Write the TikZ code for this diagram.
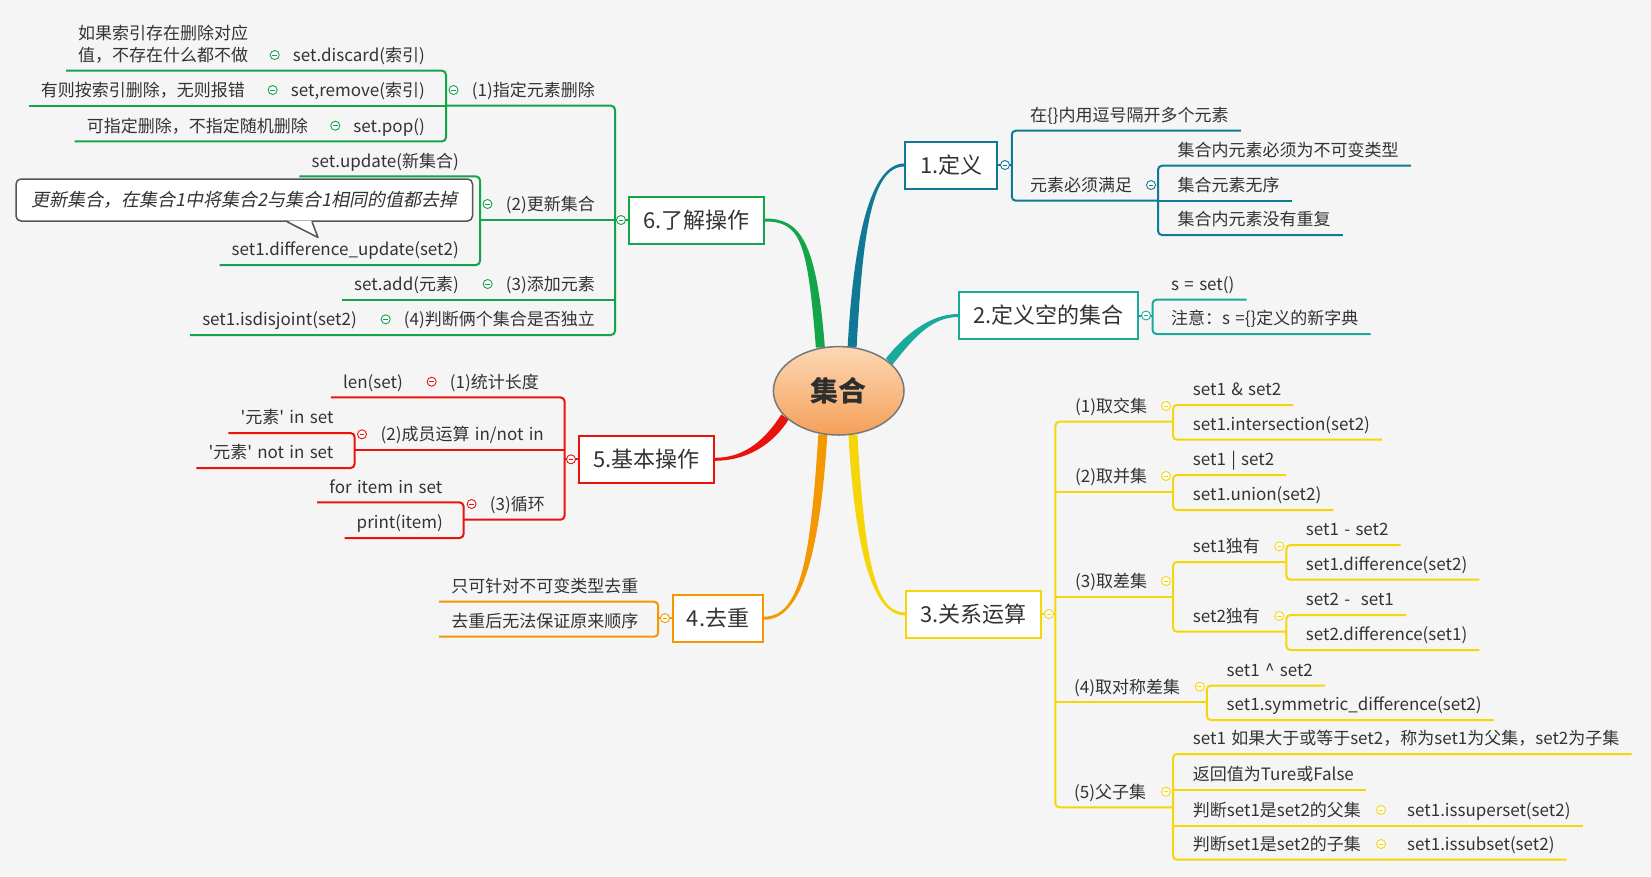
\documentclass[tikz,border=0pt]{standalone}
\usepackage{fontspec}
\setmainfont{Noto Sans CJK SC}[WordSpace=1.4]
\newfontfamily\notefont{Noto Sans CJK SC}[FakeSlant=0.2]
\usepackage{tikz}
\usetikzlibrary{calc, shapes.geometric, backgrounds}
\definecolor{c1}{RGB}{16,122,150}
\definecolor{c2}{RGB}{24,170,155}
\definecolor{c3}{RGB}{245,214,10}
\definecolor{c4}{RGB}{243,152,0}
\definecolor{c5}{RGB}{232,20,12}
\definecolor{c6}{RGB}{20,165,75}
\definecolor{ink}{RGB}{51,51,51}
\definecolor{bg}{RGB}{245,245,245}
\definecolor{rimgray}{RGB}{120,120,120}
\definecolor{notegray}{RGB}{85,85,85}
\definecolor{rtop}{RGB}{252,216,180}
\definecolor{rbot}{RGB}{245,160,90}
\newcommand{\leaffont}{\fontsize{17}{21}\selectfont}
\newcommand{\topicfont}{\fontsize{22}{26}\selectfont}
\newcommand{\limb}[7]{%
  \fill[#1] ($(#2)+(#6)$) .. controls ($(#3)+(#6)$) and ($(#4)+(#7)$) .. ($(#5)+(#7)$)
    -- ($(#5)-(#7)$) .. controls ($(#4)-(#7)$) and ($(#3)-(#6)$) .. ($(#2)-(#6)$) -- cycle;}
\tikzset{
  txt/.style={font=\leaffont, text=ink, inner xsep=0pt, inner ysep=7pt, text height=15pt, text depth=2pt},
  rtxt/.style={txt, anchor=west},
  ltxt/.style={txt, anchor=east}
}
\tikzset{
  topic/.style={draw=#1, fill=white, line width=2pt, minimum height=47pt, font=\topicfont, text=ink},
  rootnode/.style={ellipse, draw=rimgray, line width=1.5pt, top color=rtop, bottom color=rbot, minimum width=130.6pt, minimum height=88.4pt, inner sep=0pt, font=\fontsize{28}{32}\selectfont\bfseries, text=ink!90!black},
  link/.style={draw=#1, line width=2pt, rounded corners=4pt},
  fold/.style={circle, draw=#1, fill=white, line width=0.9pt, minimum size=9pt, inner sep=0pt,
    path picture={\draw[#1, line width=0.9pt] ([xshift=-2.4pt]path picture bounding box.center) -- ([xshift=2.4pt]path picture bounding box.center);}},
  callout/.style={draw=notegray, fill=white, line width=1.5pt, rounded corners=5pt, minimum width=456.5pt, minimum height=42pt, inner sep=0pt, font=\notefont\fontsize{18}{22}\selectfont, text=ink}
}
\begin{document}
\begin{tikzpicture}[x=1pt, y=-1pt]
\useasboundingbox (0,0) rectangle (1651,876);

% centre and main topics
\node[rootnode] (root) at (838.7,390.8) {集合};
\node[topic=c1, minimum width=91.6pt] (def) at (951.2,165) {1.定义};
\node[topic=c2, minimum width=179pt] (emp) at (1048.5,315.5) {2.定义空的集合};
\node[topic=c3, minimum width=135pt] (rel) at (973.5,614) {3.关系运算};
\node[topic=c4, minimum width=90pt] (dup) at (718,618.2) {4.去重};
\node[topic=c5, minimum width=134.6pt] (ops) at (646.3,459.3) {5.基本操作};
\node[topic=c6, minimum width=135pt] (ext) at (696.5,220) {6.了解操作};

% bus lines
\coordinate (b1) at (1011.8,0);
\coordinate (b1a) at (1158,0);
\coordinate (b2) at (1152.5,0);
\coordinate (b3) at (1055.3,0);
\coordinate (b3a) at (1173,0);
\coordinate (b3c) at (1286.3,0);
\coordinate (b3d) at (1206.8,0);
\coordinate (b4) at (658.2,0);
\coordinate (b5) at (564.6,0);
\coordinate (b5b) at (354.6,0);
\coordinate (b5c) at (463.6,0);
\coordinate (b6) at (615,0);
\coordinate (b6a) at (446,0);
\coordinate (b6b) at (480,0);

% 1
\foreach \n/\x/\y/\t in {d1/1030/115/{在\{\}内用逗号隔开多个元素}, d2/1030/185/{元素必须满足},
    d21/1177.5/150/{集合内元素必须为不可变类型}, d22/1177.5/185/{集合元素无序}, d23/1177.5/219.3/{集合内元素没有重复}}
  \node[rtxt] (\n) at (\x,\y) {\t};
\draw[link=c1] (def.east) -- (b1 |- def.east);
\draw[link=c1] ([xshift=12pt]d1.south east) -- (b1 |- d1.south) -- (b1 |- d2.south) -- (b1a |- d2.south);
\draw[link=c1] ([xshift=12pt]d21.south east) -- (b1a |- d21.south) -- (b1a |- d23.south) -- ([xshift=12pt]d23.south east);
\draw[link=c1] (b1a |- d22.south) -- ([xshift=12pt]d22.south east);

% 2
\node[rtxt] (e1) at (1171,284) {s = set()};
\node[rtxt] (e2) at (1171,318.3) {注意：s =\{\}定义的新字典};
\draw[link=c2] (emp.east) -- (b2 |- emp.east);
\draw[link=c2] ([xshift=12pt]e1.south east) -- (b2 |- e1.south) -- (b2 |- e2.south) -- ([xshift=12pt]e2.south east);

% 3
\foreach \n/\x/\y/\t in {r1/1075/406/{(1)取交集}, r11/1192.7/389.3/{set1 \& set2}, r12/1192.7/424/{set1.intersection(set2)},
    r2/1075/476/{(2)取并集}, r21/1192.7/459.3/{set1 | set2}, r22/1192.7/494.3/{set1.union(set2)},
    r3/1075/581/{(3)取差集}, r31/1192.7/546.3/{set1独有}, r32/1192.7/616/{set2独有},
    r311/1305.7/529.3/{set1 - set2}, r312/1305.7/564/{set1.difference(set2)},
    r321/1305.7/599.3/{set2 -~ set1}, r322/1305.7/634.3/{set2.difference(set1)},
    r4/1074/686.7/{(4)取对称差集}, r41/1226.5/670/{set1 \textasciicircum{} set2}, r42/1226.5/704.3/{set1.symmetric\_difference(set2)},
    r5/1074/791.7/{(5)父子集}, r51/1192.7/738.3/{set1 如果大于或等于set2，称为set1为父集，set2为子集},
    r52/1192.7/774/{返回值为Ture或False}, r53/1192.7/810/{判断set1是set2的父集}, r531/1407/810/{set1.issuperset(set2)},
    r54/1192.7/844/{判断set1是set2的子集}, r541/1407/844/{set1.issubset(set2)}}
  \node[rtxt] (\n) at (\x,\y) {\t};
\draw[link=c3] (rel.east) -- (b3 |- rel.east);
\draw[link=c3] (b3a |- r1.south) -- (b3 |- r1.south) -- (b3 |- r5.south) -- (b3a |- r5.south);
\draw[link=c3] (b3 |- r2.south) -- (b3a |- r2.south);
\draw[link=c3] (b3 |- r3.south) -- (b3a |- r3.south);
\draw[link=c3] (b3 |- r4.south) -- (b3d |- r4.south);
\draw[link=c3] ([xshift=12pt]r11.south east) -- (b3a |- r11.south) -- (b3a |- r12.south) -- ([xshift=12pt]r12.south east);
\draw[link=c3] ([xshift=12pt]r21.south east) -- (b3a |- r21.south) -- (b3a |- r22.south) -- ([xshift=12pt]r22.south east);
\draw[link=c3] (b3c |- r31.south) -- (b3a |- r31.south) -- (b3a |- r32.south) -- (b3c |- r32.south);
\draw[link=c3] ([xshift=12pt]r311.south east) -- (b3c |- r311.south) -- (b3c |- r312.south) -- ([xshift=12pt]r312.south east);
\draw[link=c3] ([xshift=12pt]r321.south east) -- (b3c |- r321.south) -- (b3c |- r322.south) -- ([xshift=12pt]r322.south east);
\draw[link=c3] ([xshift=12pt]r41.south east) -- (b3d |- r41.south) -- (b3d |- r42.south) -- ([xshift=12pt]r42.south east);
\draw[link=c3] ([xshift=12pt]r51.south east) -- (b3a |- r51.south) -- (b3a |- r54.south) -- ([xshift=12pt]r541.south east);
\draw[link=c3] (b3a |- r52.south) -- ([xshift=12pt]r52.south east);
\draw[link=c3] (b3a |- r53.south) -- ([xshift=12pt]r531.south east);

% 4
\node[ltxt] (u1) at (638.6,586) {只可针对不可变类型去重};
\node[ltxt] (u2) at (638.6,621) {去重后无法保证原来顺序};
\draw[link=c4] (dup.west) -- (b4 |- dup.west);
\draw[link=c4] ([xshift=-12pt]u1.south west) -- (b4 |- u1.south) -- (b4 |- u2.south) -- ([xshift=-12pt]u2.south west);

% 5
\node[ltxt] (p1) at (539,381.7) {(1)统计长度};
\node[ltxt] (p11) at (403,381.7) {len(set)};
\node[ltxt] (p2) at (544,434.3) {(2)成员运算 in/not in};
\node[ltxt] (p21) at (333.6,417.3) {\textquotesingle 元素\textquotesingle{} in set};
\node[ltxt] (p22) at (333.6,452.3) {\textquotesingle 元素\textquotesingle{} not in set};
\node[ltxt] (p3) at (545,504) {(3)循环};
\node[ltxt] (p31) at (442.5,486.7) {for item in set};
\node[ltxt] (p32) at (443,522.3) {print(item)};
\draw[link=c5] (ops.west) -- (b5 |- ops.west);
\draw[link=c5] ([xshift=-12pt]p11.south west) -- (b5 |- p11.south) -- (b5 |- p3.south) -- (b5c |- p3.south);
\draw[link=c5] (b5b |- p2.south) -- (b5 |- p2.south);
\draw[link=c5] ([xshift=-12pt]p21.south west) -- (b5b |- p21.south) -- (b5b |- p22.south) -- ([xshift=-12pt]p22.south west);
\draw[link=c5] ([xshift=-12pt]p31.south west) -- (b5c |- p31.south) -- (b5c |- p32.south) -- ([xshift=-12pt]p32.south west);

% 6
\foreach \n/\x/\y/\t in {g1/595/90/{(1)指定元素删除}, g11/425/55/{set.discard(索引)}, g12/425/90/{set,remove(索引)},
    g121/245/90/{有则按索引删除，无则报错}, g13/425/125.7/{set.pop()}, g131/308/125.7/{可指定删除，不指定随机删除},
    g2/595/204/{(2)更新集合}, g21/459/160.7/{set.update(新集合)}, g22/459/249.3/{set1.difference\_update(set2)},
    g3/595/284/{(3)添加元素}, g31/459/284/{set.add(元素)}, g4/595/319.3/{(4)判断俩个集合是否独立}, g41/357/319.3/{set1.isdisjoint(set2)}}
  \node[ltxt] (\n) at (\x,\y) {\t};
\node[font=\fontsize{17}{22.7}\selectfont, text=ink, inner sep=0pt, anchor=north west, align=left] (g111) at (78,24.5)
  {如果索引存在删除对应\\值，不存在什么都不做};
\node[callout] (note) at (244.25,200) {更新集合，在集合1中将集合2与集合1相同的值都去掉};
\fill[white] ($(note.south)+(43.5,-1.2)$) -- ($(note.south)+(73.75,15.7)$) -- ($(note.south)+(67,-1.2)$) -- cycle;
\draw[notegray, line width=1.5pt, line join=round] ($(note.south)+(42.75,0)$) -- ($(note.south)+(73.75,15.7)$) -- ($(note.south)+(67.75,0)$);
\draw[link=c6] (ext.west) -- (b6 |- ext.west);
\draw[link=c6] (b6a |- g1.south) -- (b6 |- g1.south) -- (b6 |- g4.south) -- ([xshift=-12pt]g41.south west);
\draw[link=c6] (b6b |- g2.south) -- (b6 |- g2.south);
\draw[link=c6] ([xshift=-12pt]g31.south west) -- (b6 |- g3.south);
\draw[link=c6] ([xshift=-12pt]g111.west |- g11.south) -- (b6a |- g11.south) -- (b6a |- g13.south) -- ([xshift=-12pt]g131.south west);
\draw[link=c6] ([xshift=-12pt]g121.south west) -- (b6a |- g12.south);
\draw[link=c6] ([xshift=-12pt]g21.south west) -- (b6b |- g21.south) -- (b6b |- g22.south) -- ([xshift=-12pt]g22.south west);

% fold marks
\node[fold=c1, xshift=7pt] (f1) at (def.east) {};
\node[fold=c1, xshift=-7pt] (fd2) at (b1a |- d2.west) {};
\node[fold=c2, xshift=7pt] (f2) at (emp.east) {};
\node[fold=c3, xshift=7pt] (f3) at (rel.east) {};
\foreach \n in {r1,r2,r3,r5}
  \node[fold=c3, xshift=-7pt] (f\n) at (b3a |- \n.west) {};
\node[fold=c3, xshift=-7pt] (fr4) at (b3d |- r4.west) {};
\foreach \n in {r31,r32}
  \node[fold=c3, xshift=-7pt] (f\n) at (b3c |- \n.west) {};
\foreach \n in {r531,r541}
  \node[fold=c3, xshift=-26pt] (f\n) at (\n.west) {};
\node[fold=c4, xshift=-7pt] (f4) at (dup.west) {};
\node[fold=c5, xshift=-7pt] (f5) at (ops.west) {};
\node[fold=c5, xshift=-18pt] (fp1) at (p1.west) {};
\node[fold=c5, xshift=7.4pt] (fp2) at (b5b |- p2.west) {};
\node[fold=c5, xshift=8pt] (fp3) at (b5c |- p3.west) {};
\node[fold=c6, xshift=-7pt] (f6) at (ext.west) {};
\node[fold=c6, xshift=7.5pt] (fg1) at (b6a |- g1.west) {};
\node[fold=c6, xshift=7.5pt] (fg2) at (b6b |- g2.west) {};
\foreach \n in {g11,g12,g13,g3,g4}
  \node[fold=c6, xshift=-18pt] (f\n) at (\n.west) {};

% branches
\begin{scope}[on background layer]
  \fill[bg] (0,0) rectangle (1651,876);
  \limb{c1}{root.73.5}{858,240}{870,165}{def.west}{-4.5,0}{0,-1.5}
  \limb{c2}{root.30.5}{908,338}{930,315.5}{emp.west}{-3.2,-3.2}{0,-1.5}
  \limb{c3}{root.288}{860,560}{875,614}{rel.west}{-4.5,0}{0,1.5}
  \limb{c4}{root.250.7}{815,560}{800,618.2}{dup.east}{-4.5,0}{0,-1.5}
  \limb{c5}{root.206.7}{765,448}{740,459.3}{ops.east}{-3.7,-2.5}{0,-1.5}
  \limb{c6}{root.113}{812,240}{800,220}{ext.east}{-4.5,0}{0,1.5}
\end{scope}
\end{tikzpicture}
\end{document}
